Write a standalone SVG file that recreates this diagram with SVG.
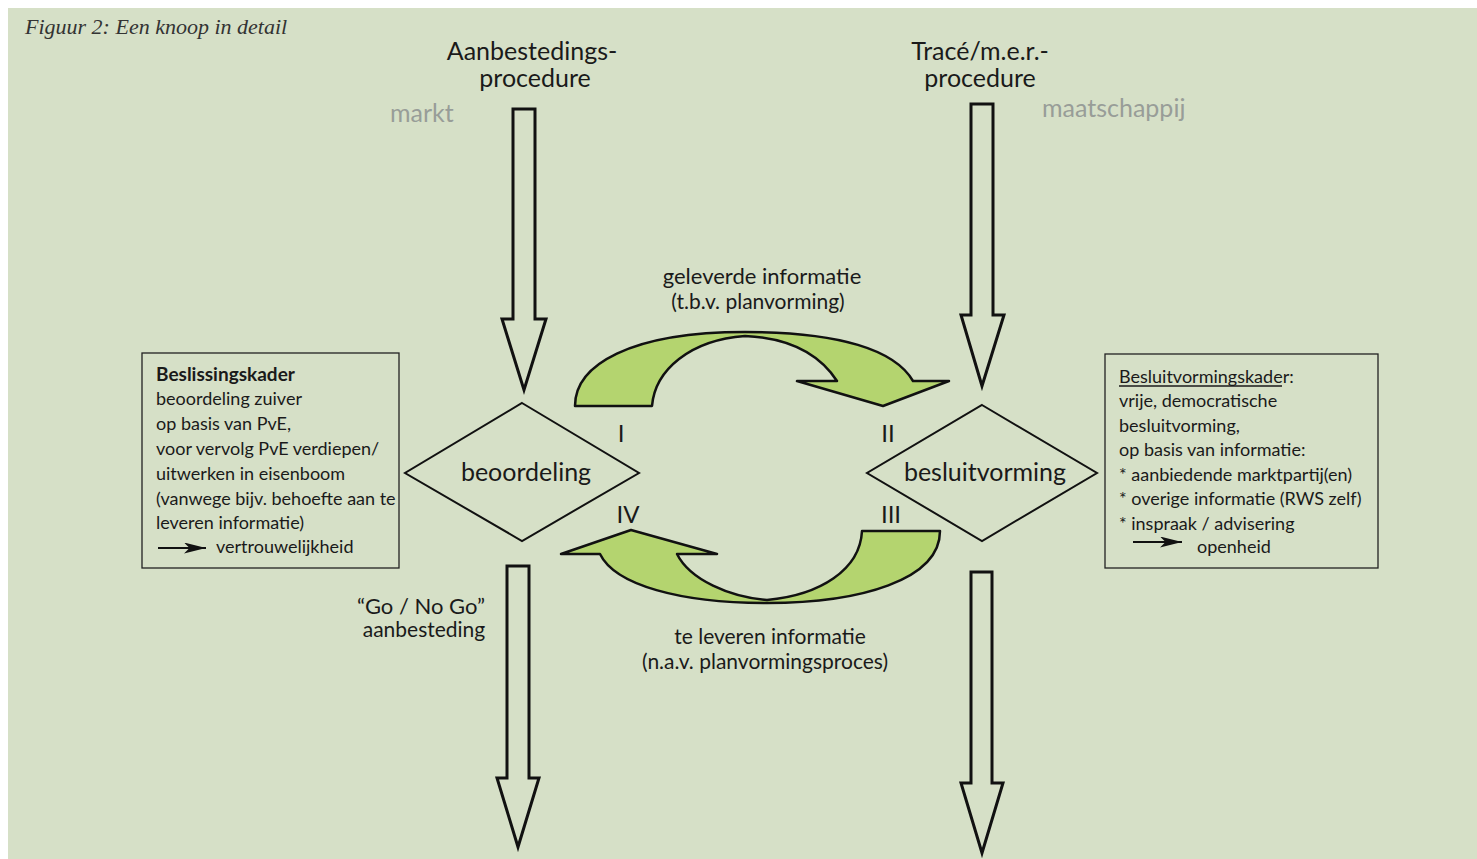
<svg xmlns="http://www.w3.org/2000/svg" width="1477" height="859" viewBox="0 0 1477 859">
<defs>
<style>
.t{font-family:Lato,"Open Sans","Liberation Sans",sans-serif;fill:#1a1a1a}
.big{font-size:25px}
.gray{font-size:25px;fill:#989d98}
.box{font-size:18px}
.fat{fill:#d6e0c7;stroke:#111;stroke-width:3;stroke-linejoin:miter}
.green{fill:#b4d46f;stroke:#111;stroke-width:2.5;stroke-linejoin:round}
.frame{fill:none;stroke:#222;stroke-width:1.3}
.dia{fill:none;stroke:#111;stroke-width:2}
</style>
<marker id="ah" viewBox="0 0 20 10" refX="20" refY="5" markerWidth="22" markerHeight="11" markerUnits="userSpaceOnUse" orient="auto">
<path d="M0,0 L20,5 L0,10 L5,5 Z" fill="#111"/>
</marker>
</defs>
<rect x="0" y="0" width="1477" height="859" fill="#ffffff"/>
<rect x="8" y="8" width="1469" height="851" fill="#d6e0c7"/>
<text x="25" y="34" style="font-family:'Liberation Serif',serif;font-style:italic;font-size:22px;fill:#333">Figuur 2: Een knoop in detail</text>

<g id="labels-top">
<text class="t big" x="532" y="60" text-anchor="middle">Aanbestedings-</text>
<text class="t big" x="535" y="87" text-anchor="middle">procedure</text>
<text class="t big" x="980" y="60" text-anchor="middle">Tracé/m.e.r.-</text>
<text class="t big" x="980" y="87" text-anchor="middle">procedure</text>
<text class="t gray" x="390" y="122">markt</text>
<text class="t gray" x="1042" y="117">maatschappij</text>
</g>

<g id="connectors">
<path id="arrow-in-left" class="fat" d="M513,109 H535 V319 H546 L524,390 L502,319 H513 Z"/>
<path id="arrow-in-right" class="fat" d="M971,104 H993 V315 H1004 L982,386 L961,315 H971 Z"/>
<path id="arrow-out-left" class="fat" d="M507,566 H529 V778 H539 L518,847 L497,778 H507 Z"/>
<path id="arrow-out-right" class="fat" d="M971,572 H992 V783 H1003 L982,853 L961,783 H971 Z"/>
<path id="curve-top" class="green" d="M575,406 C575,365 630,332 745,332 C840,332 895,350 913,381 L949,381 L883,406 L797,381 L837,381 C820,355 790,338 745,336 C690,340 655,370 652,406 Z"/>
<path id="curve-bottom" class="green" d="M940,531 C940,580 860,603 767,603 C680,603 615,585 600,554 L561,554 L631,530 L717,554 L677,554 C690,580 730,597 767,600 C820,595 860,570 862,531 Z"/>
</g>

<g id="node-beoordeling">
<polygon class="dia" points="522,403 639,473 522,541 405,473"/>
<text class="t" x="526" y="481" text-anchor="middle" style="font-size:25px">beoordeling</text>
</g>
<g id="node-besluitvorming">
<polygon class="dia" points="982,405 1097,473 982,541 867,473"/>
<text class="t" x="985" y="481" text-anchor="middle" style="font-size:25px">besluitvorming</text>
</g>

<g id="roman">
<text class="t" x="621" y="442" text-anchor="middle" style="font-size:24px">I</text>
<text class="t" x="888" y="442" text-anchor="middle" style="font-size:24px">II</text>
<text class="t" x="891" y="523" text-anchor="middle" style="font-size:24px">III</text>
<text class="t" x="628" y="523" text-anchor="middle" style="font-size:24px">IV</text>
</g>

<g id="flow-labels">
<text class="t" x="762" y="284" text-anchor="middle" style="font-size:22px">geleverde informatie</text>
<text class="t" x="758" y="309" text-anchor="middle" style="font-size:21px">(t.b.v. planvorming)</text>
<text class="t" x="770" y="644" text-anchor="middle" style="font-size:21px">te leveren informatie</text>
<text class="t" x="765" y="669" text-anchor="middle" style="font-size:21px">(n.a.v. planvormingsproces)</text>
<text class="t" x="421" y="614" text-anchor="middle" style="font-size:22px">“Go / No Go”</text>
<text class="t" x="424" y="637" text-anchor="middle" style="font-size:21px">aanbesteding</text>
</g>

<g id="node-beslissingskader">
<rect class="frame" x="142" y="353" width="257" height="215"/>
<text class="t box" x="156" y="381" font-weight="bold" style="font-size:19px">Beslissingskader</text>
<text class="t box" x="156" y="405">beoordeling zuiver</text>
<text class="t box" x="156" y="430">op basis van PvE,</text>
<text class="t box" x="156" y="455">voor vervolg PvE verdiepen/</text>
<text class="t box" x="156" y="480">uitwerken in eisenboom</text>
<text class="t box" x="156" y="505">(vanwege bijv. behoefte aan te</text>
<text class="t box" x="156" y="529">leveren informatie)</text>
<line x1="158" y1="548" x2="206" y2="548" stroke="#111" stroke-width="2" marker-end="url(#ah)"/>
<text class="t box" x="216" y="553">vertrouwelijkheid</text>
</g>

<g id="node-besluitvormingskader">
<rect class="frame" x="1105" y="354" width="273" height="214"/>
<text class="t box" x="1119" y="383">Besluitvormingskader:</text>
<line x1="1119" y1="386" x2="1282" y2="386" stroke="#1a1a1a" stroke-width="1.3"/>
<text class="t box" x="1119" y="407">vrije, democratische</text>
<text class="t box" x="1119" y="432">besluitvorming,</text>
<text class="t box" x="1119" y="456">op basis van informatie:</text>
<text class="t box" x="1119" y="481">* aanbiedende marktpartij(en)</text>
<text class="t box" x="1119" y="505">* overige informatie (RWS zelf)</text>
<text class="t box" x="1119" y="530">* inspraak / advisering</text>
<line x1="1133" y1="542" x2="1182" y2="542" stroke="#111" stroke-width="2" marker-end="url(#ah)"/>
<text class="t box" x="1197" y="553">openheid</text>
</g>
</svg>
